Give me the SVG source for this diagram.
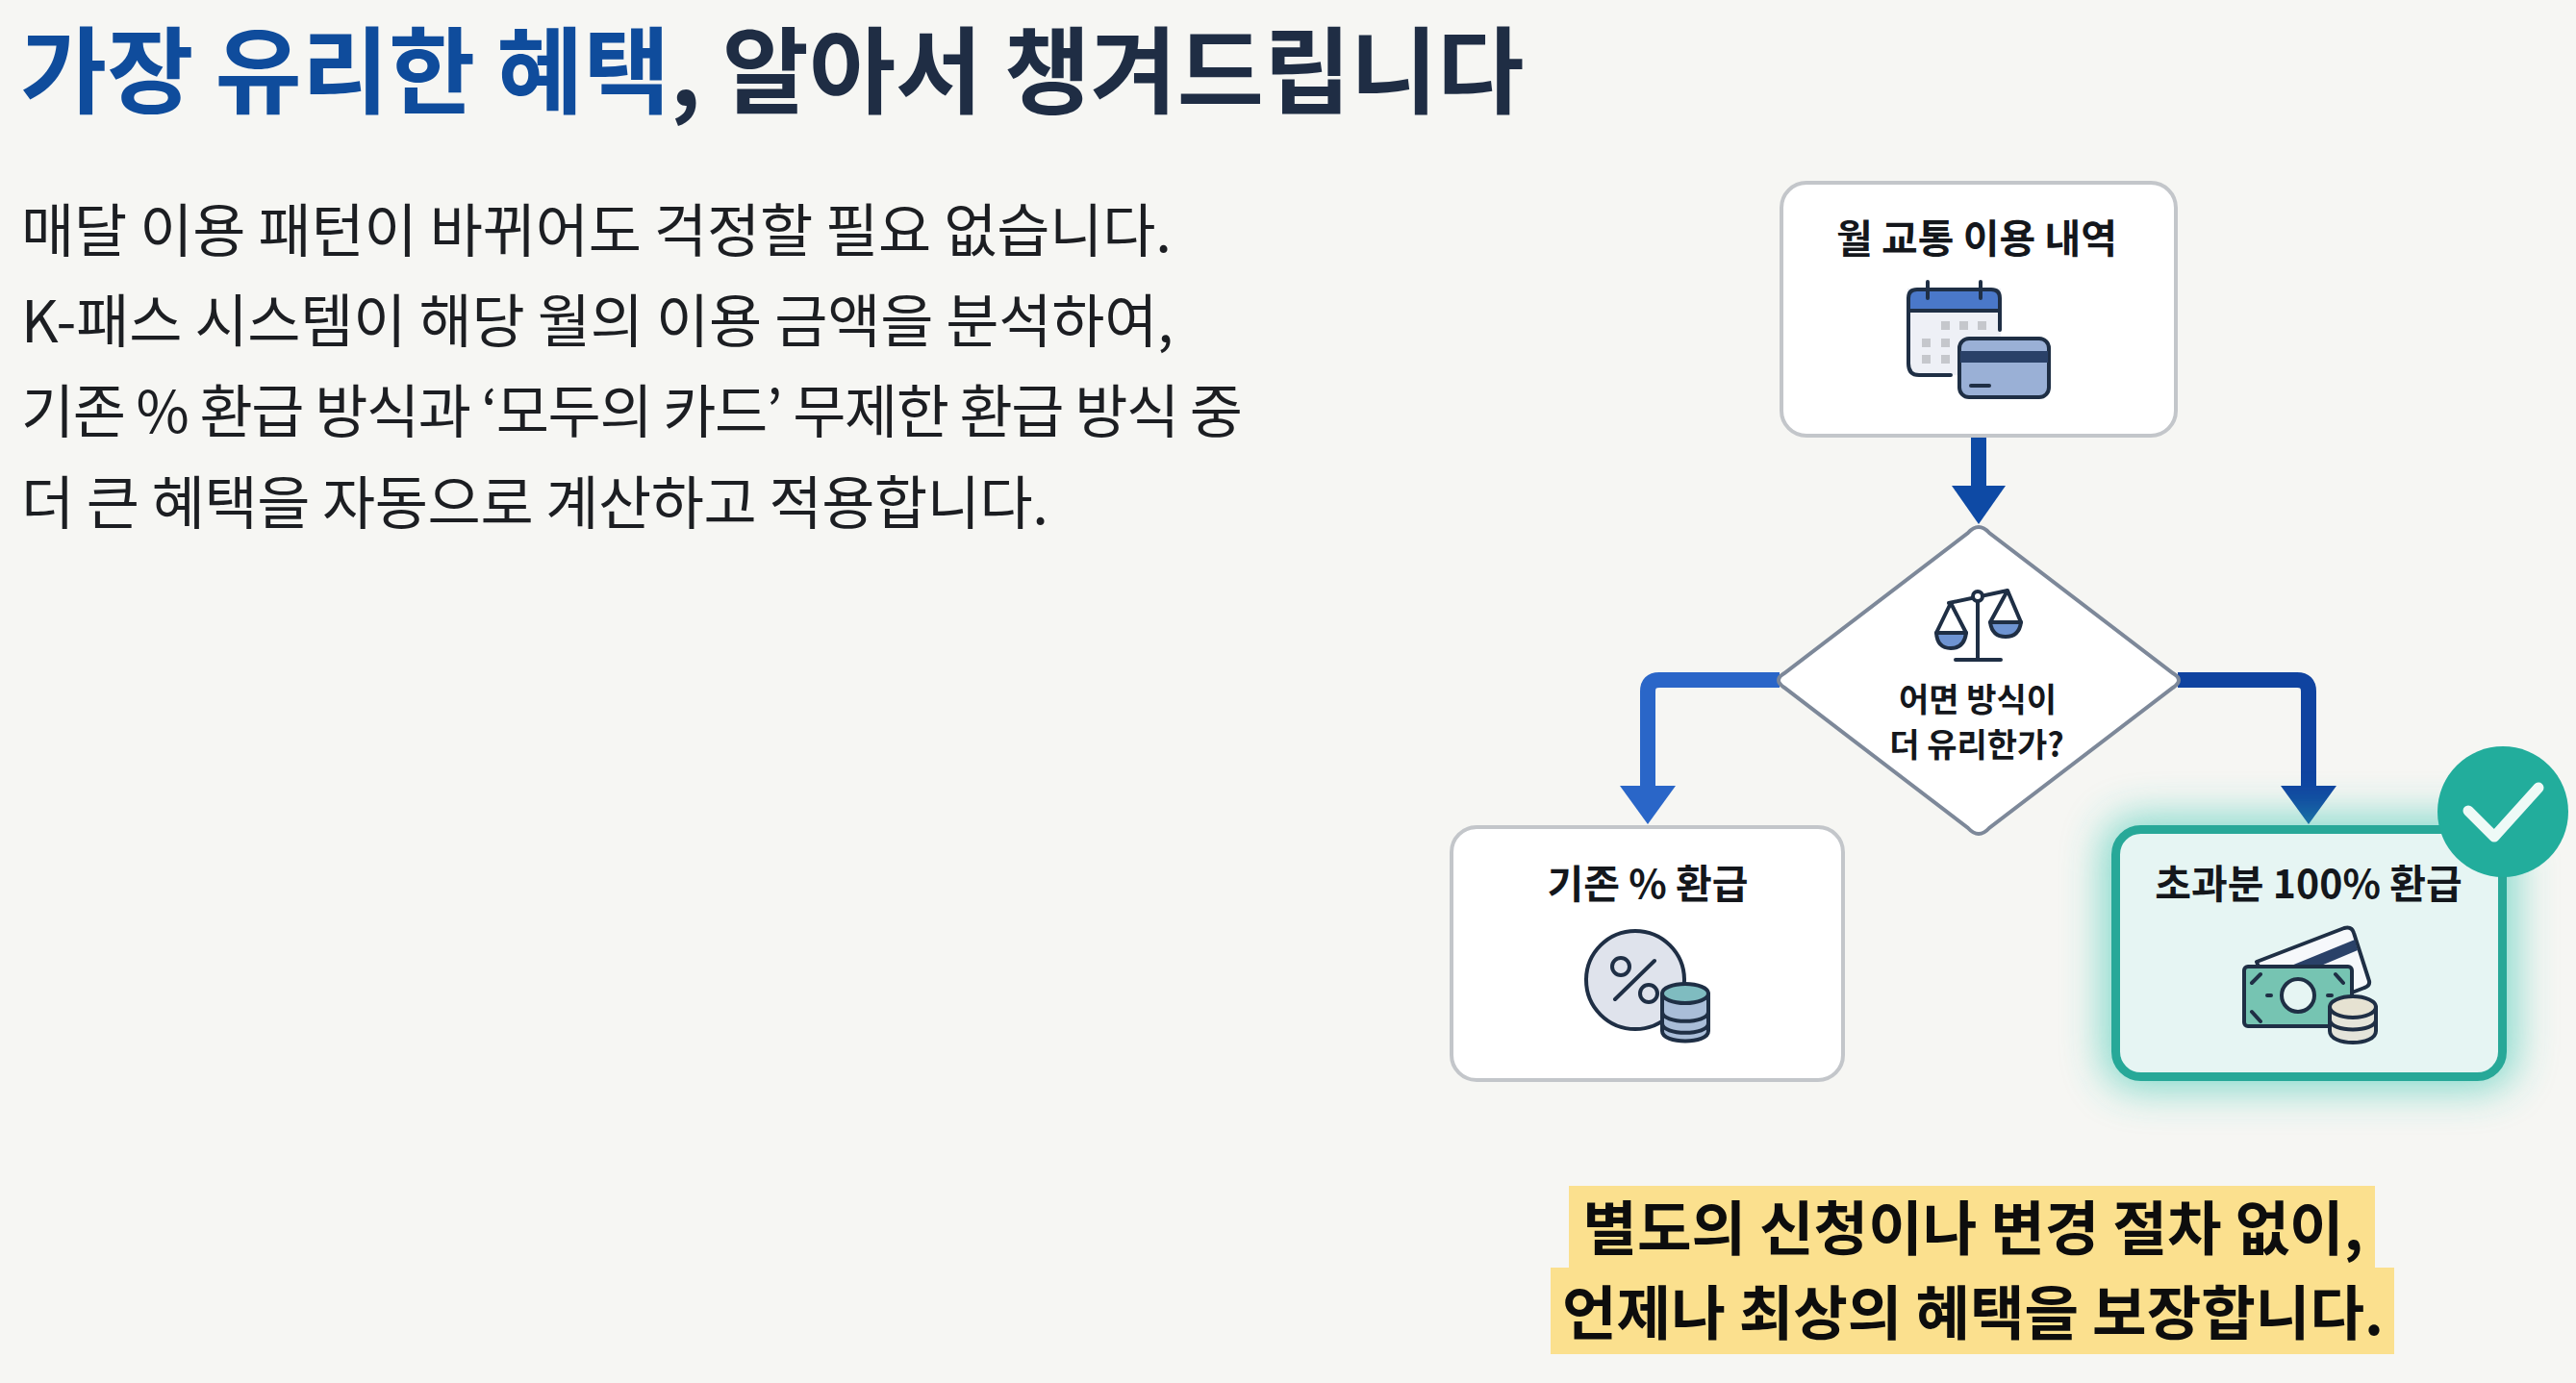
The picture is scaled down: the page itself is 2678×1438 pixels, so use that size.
<svg xmlns="http://www.w3.org/2000/svg" width="2678" height="1438" viewBox="0 0 2678 1438">
<style>
text{font-family:"Noto Sans CJK KR","Noto Sans",sans-serif;fill:#14171c}
.title{font-size:98px;font-weight:700;fill:#1f2d44}
.body{font-size:60px;font-weight:400;fill:#1c1e22}
.label{font-size:41px;font-weight:700;text-anchor:middle}
.dlabel{font-size:34px;font-weight:700;text-anchor:middle}
.hl{font-size:61.500px;font-weight:700;text-anchor:middle;fill:#0d0d0d}
.box{fill:#fff;stroke:#c3c6ca;stroke-width:4}
.ic{stroke:#1f2f45;stroke-width:4;stroke-linejoin:round;stroke-linecap:round}
.conn{fill:none;stroke-width:16;stroke-linejoin:round}
</style>
<defs>
<filter id="glow" x="-30%" y="-40%" width="160%" height="180%"><feGaussianBlur stdDeviation="22"/></filter>
</defs>
<rect width="2678" height="1438" fill="#f6f6f3"/>
<text class="title" x="21" y="110"><tspan style="fill:#0f4c9c">가장 유리한 혜택</tspan>, 알아서 챙겨드립니다</text>
<g class="bodytext">
<text class="body" x="22" y="262" textLength="1196">매달 이용 패턴이 바뀌어도 걱정할 필요 없습니다.</text>
<text class="body" x="22" y="356" textLength="1198">K-패스 시스템이 해당 월의 이용 금액을 분석하여,</text>
<text class="body" x="22" y="450" textLength="1270">기존 % 환급 방식과 ‘모두의 카드’ 무제한 환급 방식 중</text>
<text class="body" x="22" y="545" textLength="1068">더 큰 혜택을 자동으로 계산하고 적용합니다.</text>
</g>
<g id="connectors">
<path class="conn" stroke="#0e4aa5" d="M2057 453V505"/>
<path d="M2029 505H2085L2057 545Z" fill="#0e4aa5"/>
<path class="conn" stroke="#2a66c8" d="M1850 707H1725Q1713 707 1713 719V817"/>
<path d="M1684 817H1742L1713 857Z" fill="#2a66c8"/>
<path class="conn" stroke="#0f43a0" d="M2264 707H2388Q2400 707 2400 719V817"/>
<path d="M2371 817H2429L2400 857Z" fill="#0f43a0"/>
</g>
<g id="node-usage">
<rect class="box" x="1852" y="190" width="410" height="263" rx="26"/>
<text class="label" x="2055" y="263">월 교통 이용 내역</text>
<path d="M1983 323V378Q1983 390 1995 390H2080V300H1983Z" fill="#eef0f6"/>
<path d="M1983 323V310Q1983 300 1993 300H2070Q2080 300 2080 310V323Z" fill="#4a78c9"/>
<path class="ic" fill="none" d="M2028 390H1995Q1984 390 1984 378V310Q1984 301 1993 301H2070Q2079 301 2079 310V343M1984 323H2079M2004 293V310M2059 293V310"/>
<g fill="#c5c7cc"><rect x="2018" y="334" width="9" height="9"/><rect x="2037" y="334" width="9" height="9"/><rect x="2056" y="334" width="9" height="9"/><rect x="1998" y="352" width="9" height="9"/><rect x="2018" y="352" width="9" height="9"/><rect x="1998" y="369" width="9" height="9"/><rect x="2018" y="369" width="9" height="9"/></g>
<rect x="2037" y="352" width="93" height="61" rx="10" fill="#9ab0d6" class="ic"/>
<rect x="2038" y="365" width="91" height="12" fill="#2a4168"/>
<path class="ic" fill="none" stroke-width="3" d="M2049 401H2068"/>
</g>
<g id="node-decision">
<path d="M2046 554Q2057 542 2068 554L2259 700Q2271 707 2259 715L2068 861Q2057 873 2046 861L1855 715Q1843 707 1855 700Z" fill="#fff" stroke="#7d8899" stroke-width="4"/>
<path class="ic" fill="none" stroke-width="3" d="M2026 627L2087 614M2056 626V686M2033 686H2080M2028 627L2013 658M2028 627L2044 658M2087 614L2069 647M2087 614L2101 647"/>
<circle class="ic" cx="2056" cy="620" r="5" fill="#fff" stroke-width="3"/>
<path class="ic" stroke-width="3" d="M2013 658H2044Q2042 674 2028 674Q2014 674 2013 658Z" fill="#6e94d2"/>
<path class="ic" stroke-width="3" d="M2069 647H2101Q2099 662 2085 662Q2071 662 2069 647Z" fill="#6e94d2"/>
<text class="dlabel" x="2056" y="740">어면 방식이</text>
<text class="dlabel" x="2055" y="787">더 유리한가?</text>
</g>
<g id="node-percent">
<rect class="box" x="1509" y="860" width="407" height="263" rx="26"/>
<text class="label" x="1713" y="934">기존 % 환급</text>
<circle class="ic" cx="1700" cy="1019" r="51" fill="#dfe3ec"/>
<circle cx="1685" cy="1005" r="9" fill="none" class="ic"/>
<circle cx="1714" cy="1033" r="9" fill="none" class="ic"/>
<path class="ic" d="M1720 999L1679 1039"/>
<path class="ic" d="M1728 1033V1072C1728 1086 1776 1086 1776 1072V1033Z" fill="#a9bdd8"/>
<path class="ic" fill="none" d="M1728 1052C1728 1065 1776 1065 1776 1052M1728 1064C1728 1077 1776 1077 1776 1064"/>
<ellipse class="ic" cx="1752" cy="1033" rx="24" ry="10" fill="#7fbcc0"/>
</g>
<g id="node-full">
<rect x="2187" y="850" width="427" height="282" rx="34" fill="#2fc4ae" opacity=".6" filter="url(#glow)"/>
<rect x="2199.500" y="862.500" width="402" height="257" rx="26" fill="#e6f5f3" stroke="#27a898" stroke-width="9"/>
<text class="label" x="2400" y="934">초과분 100% 환급</text>
<path class="ic" stroke-width="3" d="M2346 1000L2437 965Q2445 963 2447 970L2463 1020Q2464 1025 2458 1027L2440 1034L2350 1010Z" fill="#f6f8fb"/>
<path d="M2382 1004L2448 977L2451 988L2413 1004Z" fill="#2a4168"/>
<rect class="ic" stroke-width="3.500" x="2333" y="1005" width="112" height="62" rx="4" fill="#76c4b2"/>
<circle cx="2389" cy="1035" r="17" class="ic" stroke-width="3" fill="#e6f5f3"/>
<path class="ic" stroke-width="2.500" fill="none" d="M2341 1022L2350 1013M2428 1013L2436 1022M2341 1052L2350 1062M2357 1035H2361M2420 1035H2424"/>
<path class="ic" stroke-width="3" d="M2422 1047V1072C2422 1088 2470 1088 2470 1072V1047Z" fill="#e4e4da"/>
<path class="ic" stroke-width="3" fill="none" d="M2422 1060C2422 1074 2470 1074 2470 1060"/>
<ellipse class="ic" stroke-width="3" cx="2446" cy="1047" rx="24" ry="11" fill="#e6e2d2"/>
<circle cx="2602" cy="844" r="68" fill="#22ad9c"/>
<path d="M2566 843L2593 870L2639 819" fill="none" stroke="#eefaf7" stroke-width="11" stroke-linecap="round" stroke-linejoin="round"/>
</g>
<g id="callout">
<rect x="1631" y="1233" width="838" height="88" fill="#fbe08e"/>
<rect x="1612" y="1318" width="877" height="90" fill="#fbe08e"/>
<text class="hl" x="2051" y="1300">별도의 신청이나 변경 절차 없이,</text>
<text class="hl" x="2051" y="1388">언제나 최상의 혜택을 보장합니다.</text>
</g>
</svg>
